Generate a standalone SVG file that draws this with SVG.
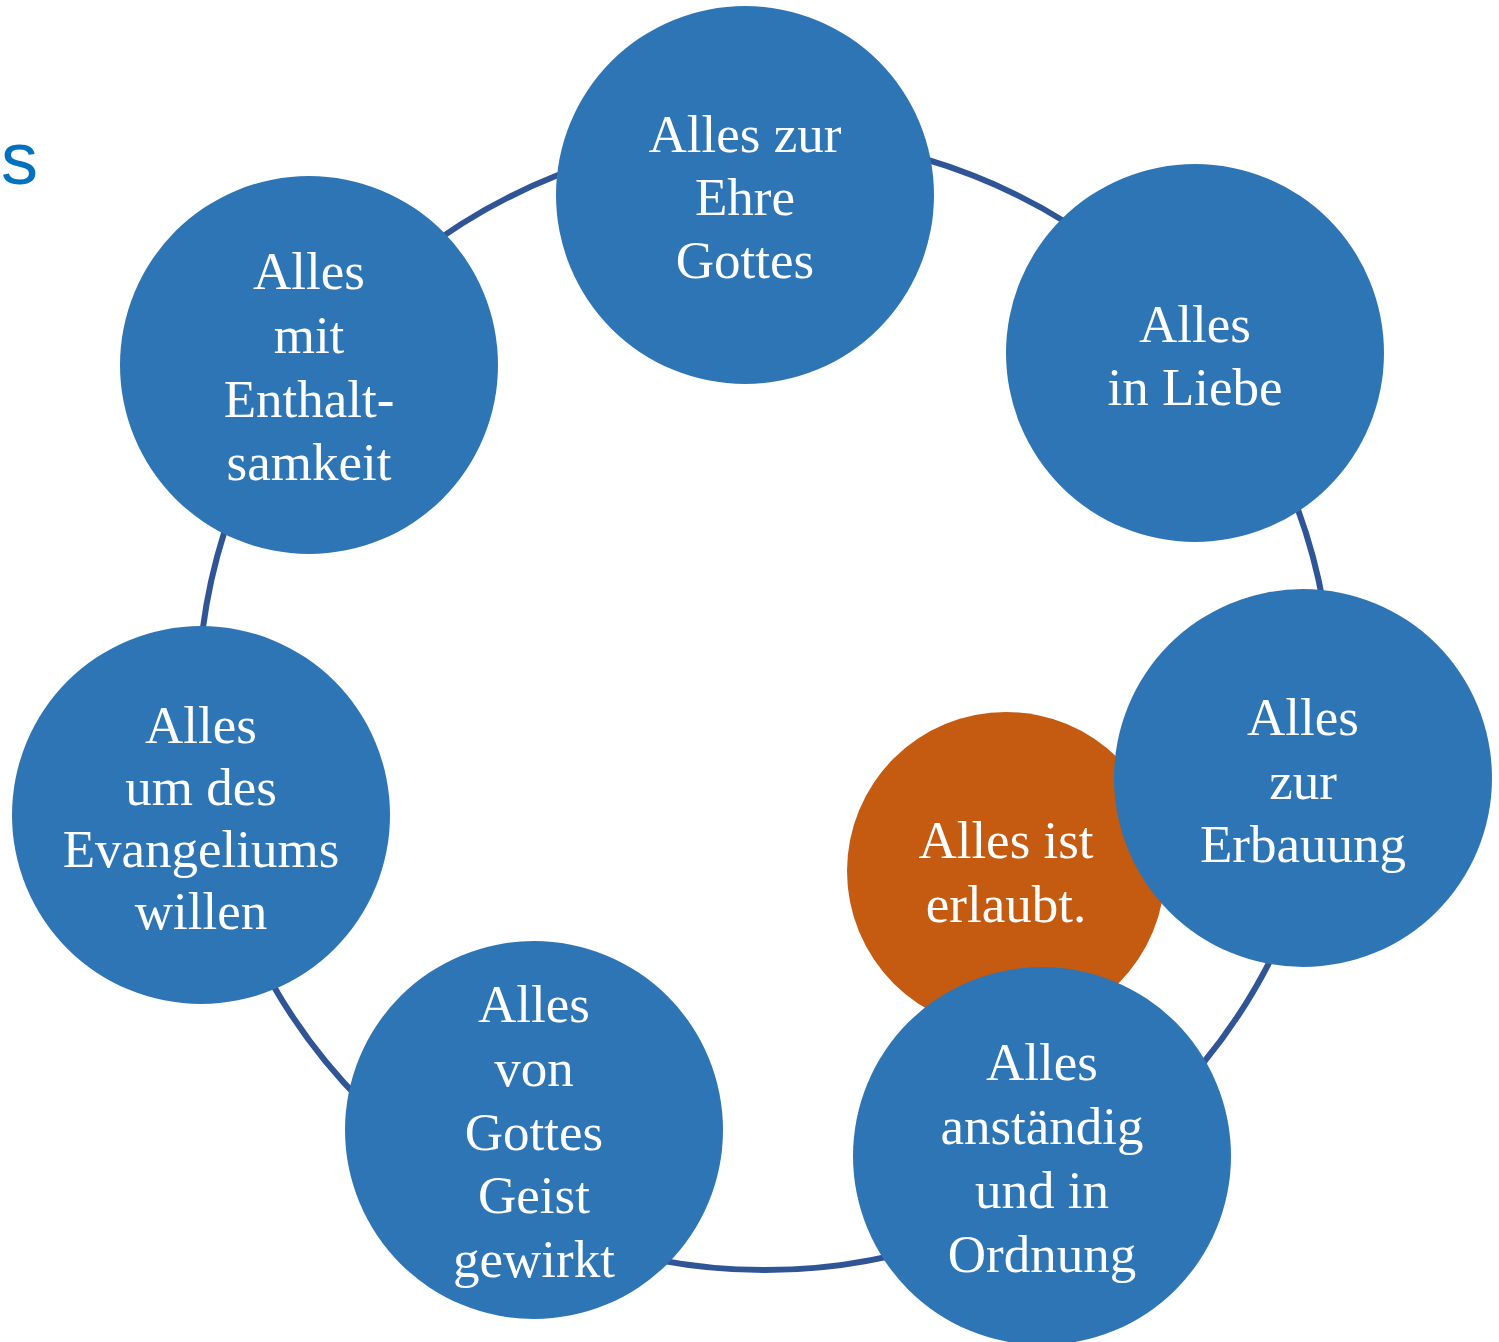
<svg xmlns="http://www.w3.org/2000/svg" width="1499" height="1342" viewBox="0 0 1499 1342">
  <style>
    .node { fill: #2E75B6; }
    .core { fill: #C55A11; }
    .ring { fill: none; stroke: #2F5597; stroke-width: 6; }
    .lbl { fill: #FFFFFF; font-family: "Liberation Serif", "Times New Roman", serif; font-size: 53px; text-anchor: middle; }
    .title { fill: #0070C0; font-family: "Liberation Sans", Arial, sans-serif; font-size: 74px; }
  </style>
  <rect width="1499" height="1342" fill="#FFFFFF"/>
  <text class="title" x="1" y="184">s</text>
  <g id="connectors">
    <circle class="ring" cx="765" cy="703" r="567"/>
  </g>
  <g id="node-ehre">
    <circle class="node" cx="745" cy="195" r="189"/>
    <text class="lbl" x="745" y="152">Alles zur</text>
    <text class="lbl" x="745" y="215">Ehre</text>
    <text class="lbl" x="745" y="278">Gottes</text>
  </g>
  <g id="node-liebe">
    <circle class="node" cx="1195" cy="353" r="189"/>
    <text class="lbl" x="1195" y="342">Alles</text>
    <text class="lbl" x="1195" y="405">in Liebe</text>
  </g>
  <g id="node-erlaubt">
    <circle class="core" cx="1006" cy="871" r="159"/>
    <text class="lbl" x="1006" y="858">Alles ist</text>
    <text class="lbl" x="1006" y="922">erlaubt.</text>
  </g>
  <g id="node-erbauung">
    <circle class="node" cx="1303" cy="778" r="189"/>
    <text class="lbl" x="1303" y="735">Alles</text>
    <text class="lbl" x="1303" y="799">zur</text>
    <text class="lbl" x="1303" y="862">Erbauung</text>
  </g>
  <g id="node-ordnung">
    <circle class="node" cx="1042" cy="1156" r="189"/>
    <text class="lbl" x="1042" y="1080">Alles</text>
    <text class="lbl" x="1042" y="1144">anständig</text>
    <text class="lbl" x="1042" y="1208">und in</text>
    <text class="lbl" x="1042" y="1272">Ordnung</text>
  </g>
  <g id="node-geist">
    <circle class="node" cx="534" cy="1130" r="189"/>
    <text class="lbl" x="534" y="1022">Alles</text>
    <text class="lbl" x="534" y="1086">von</text>
    <text class="lbl" x="534" y="1150">Gottes</text>
    <text class="lbl" x="534" y="1213">Geist</text>
    <text class="lbl" x="534" y="1277">gewirkt</text>
  </g>
  <g id="node-evangelium">
    <circle class="node" cx="201" cy="815" r="189"/>
    <text class="lbl" x="201" y="743">Alles</text>
    <text class="lbl" x="201" y="805">um des</text>
    <text class="lbl" x="201" y="867">Evangeliums</text>
    <text class="lbl" x="201" y="929">willen</text>
  </g>
  <g id="node-enthaltsamkeit">
    <circle class="node" cx="309" cy="365" r="189"/>
    <text class="lbl" x="309" y="289">Alles</text>
    <text class="lbl" x="309" y="353">mit</text>
    <text class="lbl" x="309" y="417">Enthalt-</text>
    <text class="lbl" x="309" y="480">samkeit</text>
  </g>
</svg>
